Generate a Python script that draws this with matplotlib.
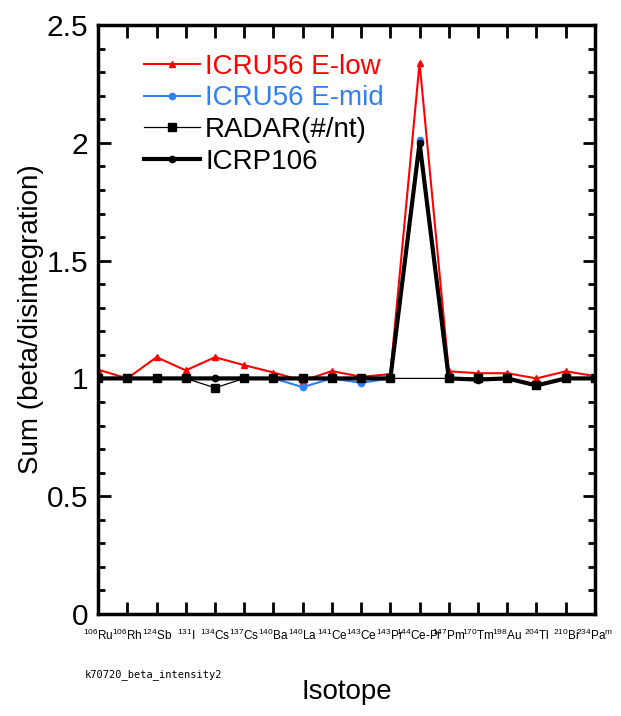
import numpy as np
import matplotlib.pyplot as plt
from matplotlib.ticker import MultipleLocator

plt.rcParams['font.family'] = ['Liberation Sans', 'DejaVu Sans']
plt.rcParams['mathtext.fontset'] = 'custom'
plt.rcParams['mathtext.rm'] = 'Liberation Sans'
plt.rcParams['mathtext.it'] = 'Liberation Sans'

isotopes = [r'$^{106}$Ru', r'$^{106}$Rh', r'$^{124}$Sb', r'$^{131}$I', r'$^{134}$Cs',
            r'$^{137}$Cs', r'$^{140}$Ba', r'$^{140}$La', r'$^{141}$Ce', r'$^{143}$Ce',
            r'$^{143}$Pr', r'$^{144}$Ce-Pr', r'$^{147}$Pm', r'$^{170}$Tm', r'$^{198}$Au',
            r'$^{204}$Tl', r'$^{210}$Bi', r'$^{234}$Pa$^{\mathrm{m}}$']

e_low = [1.037, 1.0, 1.09, 1.034, 1.09, 1.056, 1.025, 0.99, 1.031, 1.007,
         1.018, 2.34, 1.03, 1.022, 1.022, 1.0, 1.03, 1.01]
e_mid = [1.0, 1.0, 1.0, 1.0, 1.0, 1.0, 1.0, 0.963, 1.0, 0.981,
         1.0, 2.01, 1.0, 1.0, 1.0, 0.97, 1.0, 1.0]
radar = [1.0, 1.0, 1.0, 1.0, 0.96, 1.0, 1.0, 1.0, 1.0, 1.0,
         1.0, np.nan, 1.0, 1.0, 1.0, 0.97, 1.0, 1.0]
icrp106 = [1.0, 1.0, 1.0, 1.0, 1.0, 1.0, 1.0, 1.0, 1.0, 1.0,
           1.0, 2.0, 1.0, 0.995, 1.0, 0.97, 1.0, 1.0]

x = np.arange(len(isotopes))
radar = np.array(radar)
ok = ~np.isnan(radar)

fig = plt.figure(figsize=(6.21, 7.16), dpi=100)
ax = fig.add_axes([0.158, 0.1425, 0.8, 0.8225])

ax.plot(x, e_low, '-', color='red', lw=1.5, marker='^', ms=5, label='ICRU56 E-low')
ax.plot(x, e_mid, '-', color='#2f7ff5', lw=1.5, marker='o', ms=4.5, label='ICRU56 E-mid')
ax.plot(x[ok], radar[ok], '-', color='black', lw=0.9, marker='s', ms=6, label='RADAR(#/nt)')
ax.plot(x, icrp106, '-', color='black', lw=3, marker='o', ms=4.5, label='ICRP106')

ax.set_xlim(0, len(isotopes) - 1)
ax.set_ylim(0, 2.5)
ax.set_xticks(x)
ax.set_xticklabels(isotopes, fontsize=8.5)
ax.yaxis.set_major_locator(MultipleLocator(0.5))
ax.yaxis.set_minor_locator(MultipleLocator(0.1))
ax.set_yticks([0, 0.5, 1, 1.5, 2, 2.5])
ax.set_yticklabels(['0', '0.5', '1', '1.5', '2', '2.5'], fontsize=21.5)
ax.tick_params(direction='in', which='both', top=True, right=True, width=2)
ax.tick_params(which='major', length=9)
ax.tick_params(which='minor', length=5)
ax.tick_params(axis='y', pad=7)
ax.tick_params(axis='x', length=9, pad=10)
for s in ax.spines.values():
    s.set_linewidth(2.5)

ax.set_ylabel('Sum (beta/disintegration)', fontsize=20, labelpad=2)
ax.set_xlabel('Isotope', fontsize=20, labelpad=26)

leg = ax.legend(loc='upper left', bbox_to_anchor=(0.07, 0.97), fontsize=20, frameon=False,
                handlelength=2.0, handletextpad=0.2, labelspacing=0.2, borderaxespad=0)
for t, c in zip(leg.get_texts(), ['red', '#2f7ff5', 'black', 'black']):
    t.set_color(c)

fig.text(0.137, 0.055, 'k70720_beta_intensity2', fontsize=7.5, family='DejaVu Sans Mono')

fig.savefig('out.png', dpi=100)
